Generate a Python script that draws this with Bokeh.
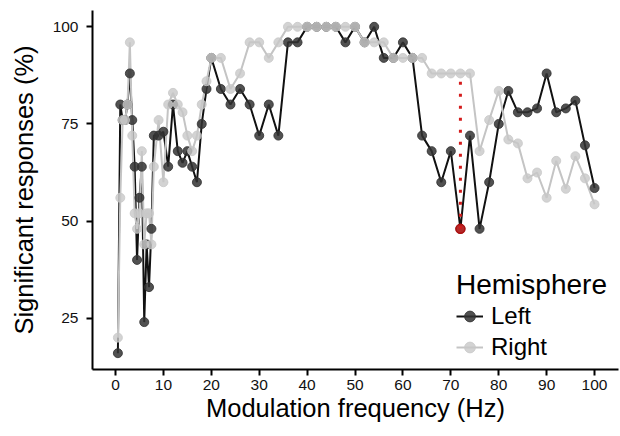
from bokeh.plotting import figure
from bokeh.models import Range1d, FixedTicker, Legend, LegendItem, ColumnDataSource
from bokeh.embed import file_html
from bokeh.resources import INLINE

# Modulation frequencies (Hz)
freq_hz = [0.5, 1, 1.5, 2, 2.5, 3, 3.5, 4, 4.5, 5, 5.5, 6, 6.5, 7, 7.5, 8,
           9, 10, 11, 12, 13, 14, 15, 16, 17, 18, 19,
           20, 22, 24, 26, 28, 30, 32, 34, 36, 38, 40, 42, 44, 46, 48, 50,
           52, 54, 56, 58, 60, 62, 64, 66, 68, 70, 72, 74, 76, 78, 80, 82,
           84, 86, 88, 90, 92, 94, 96, 98, 100]

# Percentage of significant responses, left hemisphere
left_pct = [16, 80, 76, 76, 80, 88, 76, 64, 40, 56, 64, 24, 44, 33, 48, 72,
            72, 73, 64, 80, 68, 65, 68, 64, 60, 75, 84,
            92, 84, 80, 84, 80, 72, 80, 72, 96, 96, 100, 100, 100, 100, 96, 100,
            96, 100, 92, 92, 96, 92, 72, 68, 60, 68, 48, 72, 48, 60, 75, 83.5,
            78, 78, 79, 88, 78, 79, 81, 69.5, 58.5]

# Percentage of significant responses, right hemisphere
right_pct = [20, 56, 76, 76, 80, 96, 72, 52, 48, 52, 68, 44, 52, 52, 44, 64,
             76, 60, 80, 83, 80, 78, 72, 68, 72, 80, 86,
             92, 92, 84, 88, 96, 96, 92, 96, 100, 100, 100, 100, 100, 100, 100, 100,
             96, 96, 96, 92, 92, 92, 92, 88, 88, 88, 88, 88, 68, 76, 83.5, 71,
             70, 61, 62.5, 56, 65.5, 58.3, 66.7, 61, 54.3]

# Frequency where the hemispheres are compared
highlight_hz = 72

x_ticks = [0, 10, 20, 30, 40, 50, 60, 70, 80, 90, 100]
y_ticks = [25, 50, 75, 100]

FONT = "Liberation Sans"

p = figure(width=620, height=436, output_backend="svg", toolbar_location=None,
           x_range=Range1d(-4.8, 105), y_range=Range1d(11.8, 104.2),
           min_border_left=92, min_border_right=2, min_border_top=10,
           min_border_bottom=67)
p.outline_line_color = None
p.xgrid.visible = False
p.ygrid.visible = False
p.background_fill_color = "white"

src = ColumnDataSource(dict(f=freq_hz, left=left_pct, right=right_pct))

line_l = p.line("f", "left", source=src, line_color="#111111", line_width=2)
line_r = p.line("f", "right", source=src, line_color="#c4c4c4", line_width=2)
pts_l = p.scatter("f", "left", source=src, size=9, fill_color="#333333",
                  fill_alpha=0.85, line_color="#333333", line_alpha=0.85)
pts_r = p.scatter("f", "right", source=src, size=9, fill_color="#c8c8c8",
                  fill_alpha=0.8, line_color="#c8c8c8", line_alpha=0.8)

# Dotted red link between the two hemispheres at the highlighted frequency
i = freq_hz.index(highlight_hz)
p.segment(x0=[highlight_hz], y0=[left_pct[i]], x1=[highlight_hz], y1=[right_pct[i]],
          line_color="#d41c1c", line_width=3, line_dash="3 9")
p.scatter(x=[highlight_hz], y=[left_pct[i]], size=9, fill_color="#d41c1c",
          fill_alpha=0.75, line_color="#b01010", line_width=1.5)

for ax in (p.xaxis[0], p.yaxis[0]):
    ax.axis_line_width = 2
    ax.axis_line_color = "black"
    ax.major_tick_line_width = 2
    ax.major_tick_line_color = "black"
    ax.major_tick_out = 6
    ax.major_tick_in = 0
    ax.minor_tick_line_color = None
    ax.major_label_text_font = FONT
    ax.major_label_text_font_size = "15.5px"
    ax.major_label_text_color = "#111111"
    ax.axis_label_text_font = FONT
    ax.axis_label_text_font_size = "25.5px"
    ax.axis_label_text_font_style = "normal"
    ax.axis_label_text_color = "black"

p.xaxis.ticker = FixedTicker(ticks=x_ticks)
p.yaxis.ticker = FixedTicker(ticks=y_ticks)
p.xaxis.axis_label = "Modulation frequency (Hz)"
p.yaxis.axis_label = "Significant responses (%)"
p.xaxis.major_label_standoff = 4
p.yaxis.major_label_standoff = 8
p.xaxis.axis_label_standoff = 1
p.yaxis.axis_label_standoff = 12

legend = Legend(items=[LegendItem(label="Left", renderers=[line_l, pts_l]),
                       LegendItem(label="Right", renderers=[line_r, pts_r])],
                title="Hemisphere", location=(364, 8))
legend.title_text_font = FONT
legend.title_text_font_size = "28px"
legend.title_text_font_style = "normal"
legend.title_text_color = "black"
legend.title_standoff = 1
legend.label_text_font = FONT
legend.label_text_font_size = "24px"
legend.label_text_color = "black"
legend.glyph_width = 27
legend.glyph_height = 28
legend.label_height = 28
legend.label_standoff = 8
legend.spacing = 3
legend.padding = 0
legend.margin = 0
legend.border_line_color = None
legend.background_fill_alpha = 0
p.add_layout(legend)

open("out.html", "w").write(file_html(p, INLINE))
